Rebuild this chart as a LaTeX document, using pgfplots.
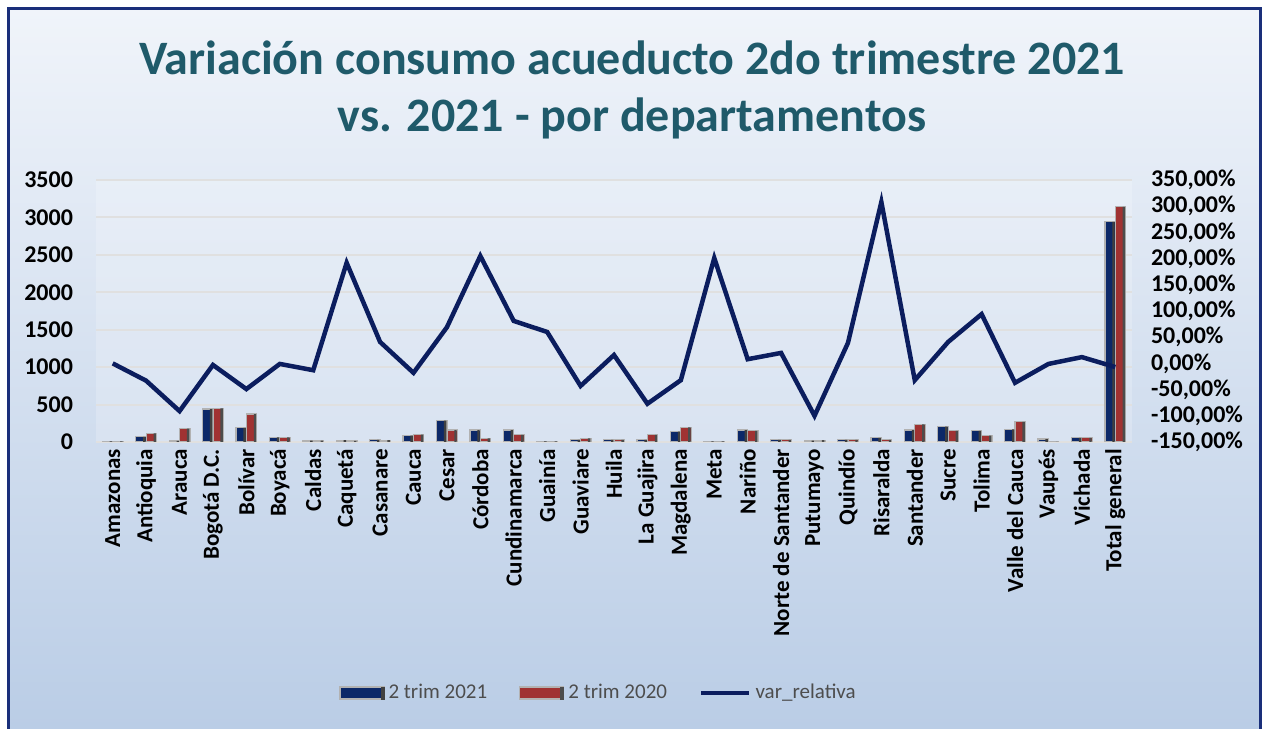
\documentclass[border=0pt]{standalone}
\usepackage{fontspec}
\setmainfont{Carlito}
\usepackage{pgfplots}
\usepackage{pgfplotstable}
\pgfplotsset{compat=1.18}
\definecolor{titlecol}{HTML}{1F5A6A}
\definecolor{navyline}{HTML}{0B1D5E}
\definecolor{framecol}{HTML}{1A2F7A}
\definecolor{bgtop}{HTML}{F0F4FA}
\definecolor{bgbot}{HTML}{BACDE6}
\definecolor{barblue}{HTML}{0C2868}
\definecolor{barred}{HTML}{A03232}
\definecolor{legtext}{HTML}{4D4D4D}

% x t2021 t2020 var(%)
\pgfplotstableread{
x  t2021 t2020 var
0  10    10    0
1  70    116   -33
2  15    180   -91
3  440   450   -3
4  190   374   -49
5  62    62    -1
6  20    20    -13
7  25    15    192
8  30    25    41
9  85    100   -18
10 285   160   69
11 160   50    205
12 160   95    81
13 10    10    60
14 30    50    -43
15 30    30    16
16 30    95    -77
17 140   195   -32
18 10    10    201
19 160   150   8
20 30    30    20
21 20    25    -100
22 30    30    39
23 55    30    308
24 160   235   -32
25 205   150   41
26 150   85    94
27 170   270   -37
28 40    0     -1
29 55    55    12
30 2941  3142  -7
}\data

\tikzset{
  bluebar/.style={fill=barblue, draw=gray!60, line width=0.6pt},
  redbar/.style={fill=barred, draw=gray!60, line width=0.6pt},
}

\begin{document}
\begin{tikzpicture}
\useasboundingbox (0pt,0pt) rectangle (631pt,364pt);
\fill[white] (0pt,0pt) rectangle (631pt,364pt);
\shade[top color=bgtop, bottom color=bgbot] (4pt,0pt) rectangle (630pt,359.5pt);
\draw[framecol, line width=1.5pt] (4pt,-2pt) -- (4pt,359.5pt) -- (630pt,359.5pt) -- (630pt,-2pt);
\node[text=titlecol, font=\bfseries\fontsize{24}{28.5}\selectfont, align=center] at (316pt,319pt)
  {Variación consumo acueducto 2do trimestre 2021\\vs. 2021 - por departamentos};

% bars, left axis
\begin{axis}[
  at={(48pt,143pt)}, anchor=south west, scale only axis,
  width=518pt, height=131pt,
  xmin=-0.5, xmax=30.5, ymin=0, ymax=3500,
  ytick={0,500,...,3500},
  xtick=data,
  xticklabels={Amazonas,Antioquia,Arauca,Bogotá D.C.,Bolívar,Boyacá,Caldas,Caquetá,Casanare,Cauca,Cesar,Córdoba,Cundinamarca,Guainía,Guaviare,Huila,La Guajira,Magdalena,Meta,Nariño,Norte de Santander,Putumayo,Quindío,Risaralda,Santander,Sucre,Tolima,Valle del Cauca,Vaupés,Vichada,Total general},
  ticklabel style={font=\bfseries\fontsize{11.5}{13}\selectfont},
  y tick label style={font=\bfseries\fontsize{12}{13}\selectfont},
  x tick label style={rotate=90, anchor=east},
  yticklabel shift=8pt,
  /pgf/number format/1000 sep={},
  /pgf/number format/assume math mode=true,
  axis line style={draw=none}, major tick style={draw=none},
  ymajorgrids, grid style={line width=1pt, color=black!12},
  axis background/.style={fill=white, fill opacity=0.2},
]
\addplot[ybar, bar width=5.2pt, bar shift=-2.6pt, bluebar] table[x=x,y=t2021]{\data};
\addplot[ybar, bar width=5.2pt, bar shift=2.6pt, redbar] table[x=x,y=t2020]{\data};
% darker right side of each bar
\addplot[ybar, bar width=1.2pt, bar shift=-0.9pt, fill=black!75, draw=none] table[x=x,y=t2021]{\data};
\addplot[ybar, bar width=1.2pt, bar shift=4.3pt, fill=black!70, draw=none] table[x=x,y=t2020]{\data};
\end{axis}

% line, right axis
\begin{axis}[
  at={(48pt,143pt)}, anchor=south west, scale only axis,
  width=518pt, height=131pt,
  xmin=-0.5, xmax=30.5, ymin=-150, ymax=350,
  axis x line=none, axis y line*=right,
  ytick={-150,-100,...,350},
  yticklabel={\pgfmathprintnumber[fixed,fixed zerofill,precision=2,use comma,assume math mode=true]{\tick}\%},
  ticklabel style={font=\bfseries\fontsize{12}{13}\selectfont},
  y tick label style={anchor=west},
  yticklabel shift=6pt,
  axis line style={draw=none}, major tick style={draw=none},
  legend columns=3,
  legend cell align=left,
  legend style={at={(0.486,-0.958)}, anchor=center, draw=none, fill=none,
    font=\fontsize{10.5}{12}\selectfont, text=legtext,
    /tikz/every even column/.append style={column sep=14pt}},
]
\addlegendimage{legend image code/.code={\draw[bluebar] (0pt,-3pt) rectangle (22pt,3pt); \fill[black!75] (20.5pt,-3pt) rectangle (22pt,3pt);}}
\addlegendentry{2 trim 2021}
\addlegendimage{legend image code/.code={\draw[redbar] (0pt,-3pt) rectangle (22pt,3pt); \fill[black!70] (20.5pt,-3pt) rectangle (22pt,3pt);}}
\addlegendentry{2 trim 2020}
\addplot[navyline, line width=2.25pt, mark=none,
  legend image code/.code={\draw[navyline, line width=2.25pt] (0pt,0pt) -- (24pt,0pt);}]
  table[x=x,y=var]{\data};
\addlegendentry{var\_relativa}
\end{axis}
\end{tikzpicture}
\end{document}
